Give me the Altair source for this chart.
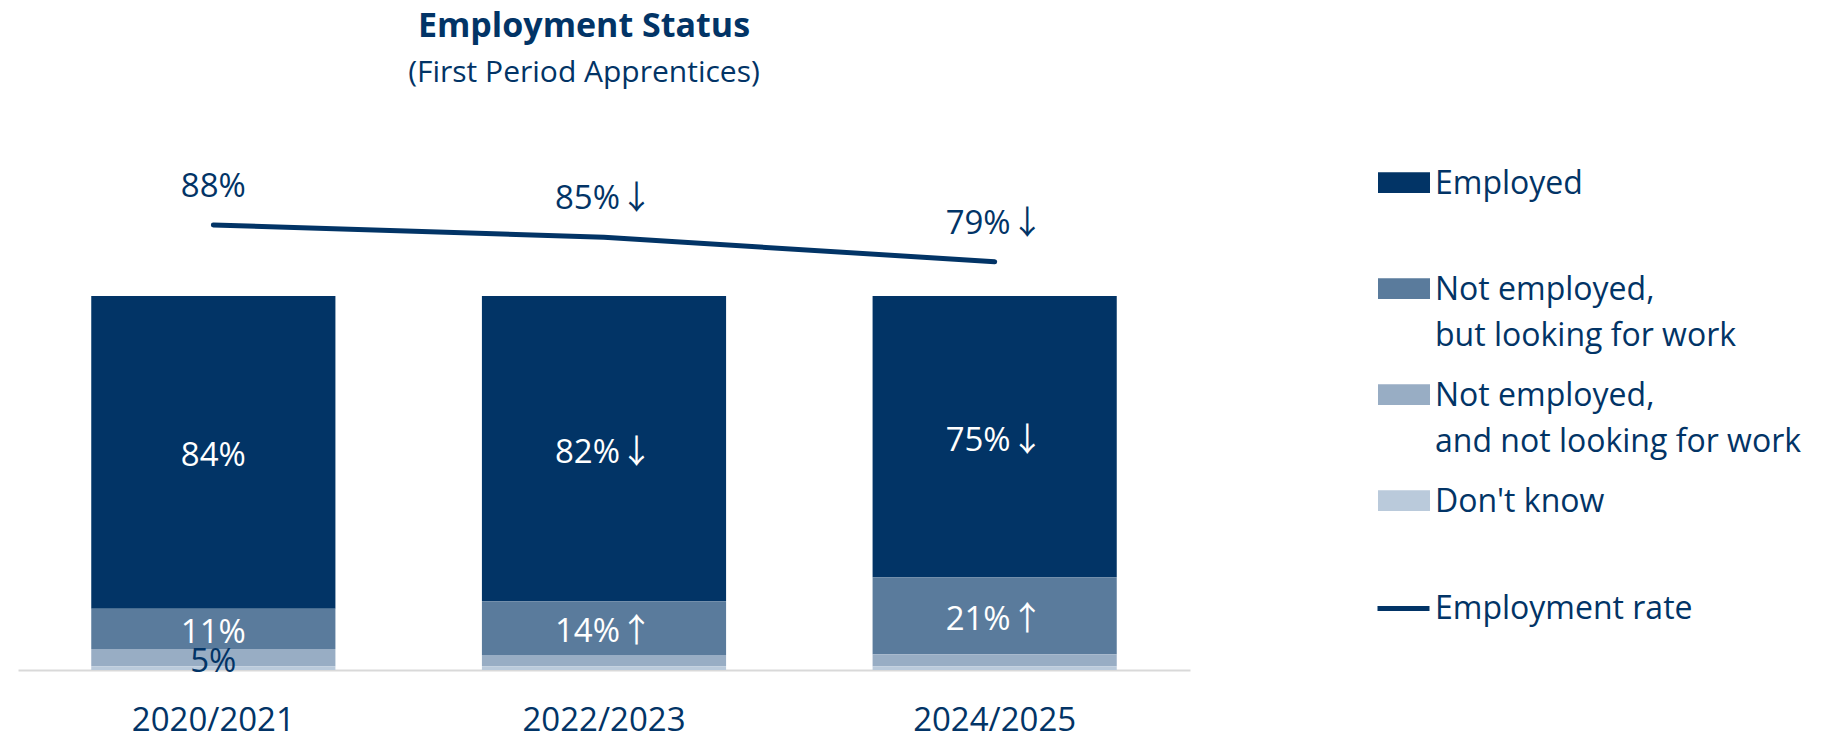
import altair as alt
import pandas as pd

# ---------------- data ----------------
periods = ["2020/2021", "2022/2023", "2024/2025"]
categories = [
    "Employed",
    "Not employed,|but looking for work",
    "Not employed,|and not looking for work",
    "Don't know",
]
cat_colors = ["#023466", "#5A7B9C", "#98ADC4", "#BACADB"]

employed = [83.6, 81.6, 75.2]
looking = [10.8, 14.4, 20.6]
not_looking = [4.6, 3.0, 3.2]
dont_know = [1.0, 1.0, 1.0]

employed_labels = ["84%", "82%↓", "75%↓"]
looking_labels = ["11%", "14%↑", "21%↑"]
not_looking_labels = ["5%", "", ""]
dont_know_labels = ["", "", ""]

rate = [88, 85, 79]
rate_labels = ["88%", "85%↓", "79%↓"]

NAVY = "#023466"
FONT = "Open Sans"
ARROW_FONT = "Noto Sans CJK JP"


def split_label(s):
    num = s.rstrip("↑↓")
    return num, s[len(num):]


# ---------------- tables ----------------
series = [employed, looking, not_looking, dont_know]
series_labels = [employed_labels, looking_labels, not_looking_labels, dont_know_labels]
rows = []
for ci, (cat, vals, labs) in enumerate(zip(categories, series, series_labels)):
    for p, v, l in zip(periods, vals, labs):
        num, arrow = split_label(l)
        rows.append({"period": p, "category": cat, "value": v, "label": l,
                     "num": num, "arrow": arrow,
                     "order": len(categories) - ci})
bars_df = pd.DataFrame(rows)

rate_rows = []
for p, r, l in zip(periods, rate, rate_labels):
    num, arrow = split_label(l)
    rate_rows.append({"period": p, "rate": r, "label": l, "num": num, "arrow": arrow,
                      "series": "Employment rate"})
rate_df = pd.DataFrame(rate_rows)

Y_DOMAIN = [0, 149.73]
RATE_DOMAIN = [-21.07, 116.19]
ARROW_SHIFT = 16

x_enc = alt.X(
    "period:N", sort=periods,
    scale=alt.Scale(paddingInner=0.375, paddingOuter=0.1875),
    axis=alt.Axis(title=None, labelAngle=0, labelFont=FONT, labelFontSize=33,
                  labelColor=NAVY, ticks=False, tickSize=0, labelPadding=60,
                  labelBaseline="alphabetic", domainColor="#D9D9D9", domainWidth=2,
                  grid=False),
)
x_plain = alt.X("period:N", sort=periods)

base = alt.Chart(bars_df).transform_stack(
    stack="value", groupby=["period"], as_=["y0", "y1"],
    sort=[alt.SortField("order", order="ascending")],
).transform_calculate(mid="(datum.y0 + datum.y1) / 2")

bars = base.mark_bar().encode(
    x=x_enc,
    y=alt.Y("y0:Q", scale=alt.Scale(domain=Y_DOMAIN), axis=None),
    y2="y1:Q",
    color=alt.Color(
        "category:N",
        scale=alt.Scale(domain=categories, range=cat_colors),
        legend=alt.Legend(
            title=None, orient="none", legendX=1360, legendY=58, padding=0,
            symbolType="M-1,-0.84H1V-0.04H-1Z", symbolSize=2704,
            symbolStrokeWidth=0, symbolOpacity=1,
            labelFont=FONT, labelFontSize=32, labelColor=NAVY,
            labelBaseline="alphabetic", labelOffset=5, labelLimit=1000,
            labelExpr="split(datum.label, '|')",
            gridAlign="all", rowPadding=28,
        ),
    ),
)

bar_label_color = alt.condition(
    alt.datum.category == categories[2], alt.value(NAVY), alt.value("white")
)
y_mid = alt.Y("mid:Q", scale=alt.Scale(domain=Y_DOMAIN), axis=None)

bar_text_plain = base.transform_filter("datum.label != '' && datum.arrow == ''").mark_text(
    font=FONT, fontSize=33, baseline="middle", align="center", dy=4
).encode(x=x_plain, y=y_mid, text="num:N", color=bar_label_color)

bar_text_num = base.transform_filter("datum.arrow != ''").mark_text(
    font=FONT, fontSize=33, baseline="middle", align="right", dy=4, dx=ARROW_SHIFT
).encode(x=x_plain, y=y_mid, text="num:N", color=bar_label_color)

bar_text_arrow = base.transform_filter("datum.arrow != ''").mark_text(
    font=ARROW_FONT, fontSize=33, baseline="middle", align="left", dy=4, dx=ARROW_SHIFT
).encode(x=x_plain, y=y_mid, text="arrow:N", color=bar_label_color)

line = alt.Chart(rate_df).mark_line(strokeWidth=5, strokeCap="round").encode(
    x=x_plain,
    y=alt.Y("rate:Q", scale=alt.Scale(domain=RATE_DOMAIN), axis=None),
    stroke=alt.Stroke(
        "series:N",
        scale=alt.Scale(domain=["Employment rate"], range=[NAVY]),
        legend=alt.Legend(
            title=None, orient="none", legendX=1357, legendY=470, padding=0,
            symbolType="stroke", symbolSize=2704, symbolStrokeWidth=5,
            labelFont=FONT, labelFontSize=32, labelColor=NAVY,
            labelBaseline="middle", labelOffset=3, labelLimit=1000,
        ),
    ),
)

y_rate = alt.Y("rate:Q", scale=alt.Scale(domain=RATE_DOMAIN), axis=None)
rate_base = alt.Chart(rate_df)

line_text_plain = rate_base.transform_filter("datum.arrow == ''").mark_text(
    font=FONT, fontSize=33, baseline="middle", align="center", dy=-38, color=NAVY
).encode(x=x_plain, y=y_rate, text="num:N")

line_text_num = rate_base.transform_filter("datum.arrow != ''").mark_text(
    font=FONT, fontSize=33, baseline="middle", align="right", dy=-38, dx=ARROW_SHIFT,
    color=NAVY
).encode(x=x_plain, y=y_rate, text="num:N")

line_text_arrow = rate_base.transform_filter("datum.arrow != ''").mark_text(
    font=ARROW_FONT, fontSize=33, baseline="middle", align="left", dy=-38,
    dx=ARROW_SHIFT, color=NAVY
).encode(x=x_plain, y=y_rate, text="arrow:N")

chart = alt.layer(
    bars, bar_text_plain, bar_text_num, bar_text_arrow,
    line, line_text_plain, line_text_num, line_text_arrow,
).resolve_scale(
    y="independent"
).properties(
    width=1172,
    height=560,
    padding={"left": 10, "top": 102, "right": 630, "bottom": 70},
    autosize=alt.AutoSizeParams(type="none"),
    title=alt.TitleParams(
        text="Employment Status", subtitle="(First Period Apprentices)",
        font=FONT, fontSize=34, fontWeight="bold", color=NAVY,
        subtitleFont=FONT, subtitleFontSize=30, subtitleColor=NAVY,
        anchor="middle", frame="group", dx=-20, offset=22, subtitlePadding=14,
    ),
).configure(
    style={"guide-label": {"lineHeight": 46}},
    view={"stroke": None},
)

chart.save("out.html", embed_options={"renderer": "svg", "actions": False})
